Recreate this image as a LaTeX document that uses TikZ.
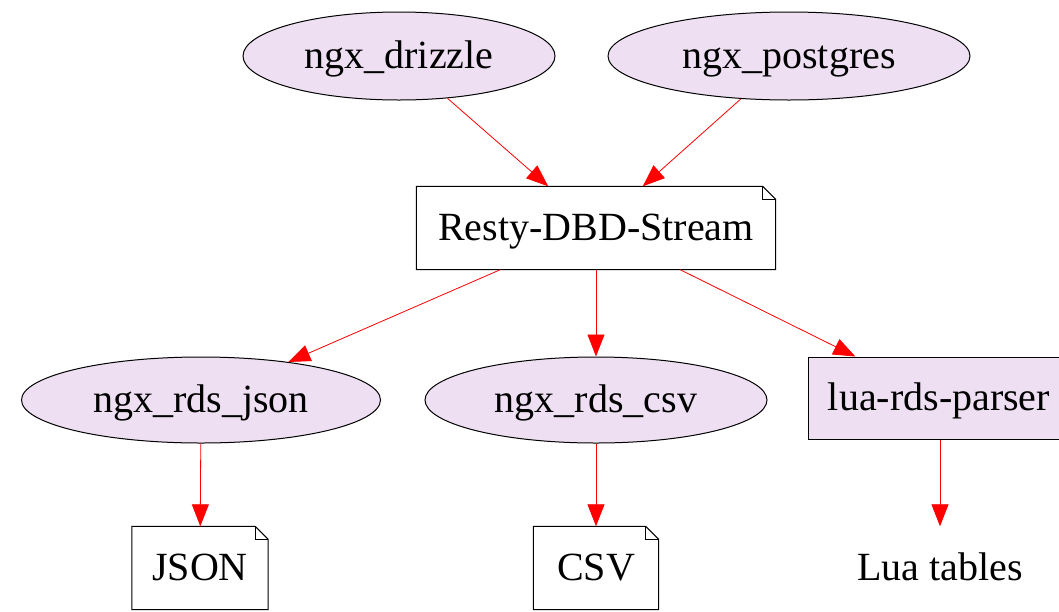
\documentclass[tikz,border=0pt]{standalone}
\usepackage{fontspec}
\setmainfont{Liberation Serif}
\usetikzlibrary{shapes.geometric,arrows.meta}

\definecolor{modfill}{RGB}{238,224,242}
\definecolor{linkred}{RGB}{255,0,0}

\tikzset{
  every node/.style={text height=30pt, text depth=6pt},
  modnode/.style={ellipse, draw=black, line width=1pt, fill=modfill, inner sep=0pt, minimum height=88},
  notebox/.style={rectangle, draw=none, fill=white, inner sep=0pt, minimum height=83},
  parserbox/.style={rectangle, draw=black, line width=1pt, fill=modfill, inner sep=0pt, minimum height=82},
  plainnode/.style={rectangle, inner sep=0pt, minimum height=83},
  link/.style={draw=linkred, line width=0.8pt, -{Triangle[length=22pt,width=17pt]}},
}

\begin{document}
\begin{tikzpicture}[x=1pt,y=1pt,yscale=-1,xscale=1,font=\fontsize{40}{48}\selectfont]
\useasboundingbox (0,0) rectangle (1059,611);

% modules on top
\node [modnode, minimum width=312] (drizzle) at (399,56) {ngx\_drizzle};
\node [modnode, minimum width=362] (postgres) at (789,56) {ngx\_postgres};

% stream format
\node [notebox, minimum width=359] (resty) at (596,228) {Resty-DBD-Stream};

% converters
\node [modnode, minimum width=359, minimum height=86] (rdsjson) at (201,400) {ngx\_rds\_json};
\node [modnode, minimum width=342, minimum height=86] (rdscsv) at (596,400) {ngx\_rds\_csv};
\node [parserbox, minimum width=262] (luaparser) at (939,398) {lua-rds-parser};

% outputs
\node [notebox, minimum width=136] (json) at (200,568) {JSON};
\node [notebox, minimum width=125] (csv) at (596,568) {CSV};
\node [plainnode, minimum width=180] (luatab) at (940,568) {Lua tables};

% note outlines with folded corner
\foreach \n in {resty,json,csv}{
  \draw [line width=1pt] (\n.south west) -- (\n.north west) -- ([xshift=-13]\n.north east) -- ([yshift=13]\n.north east) -- (\n.south east) -- cycle;
  \draw [line width=0.8pt] ([xshift=-13]\n.north east) |- ([yshift=13]\n.north east);
}

% links
\draw [link] (drizzle) -- (resty);
\draw [link] (postgres) -- (resty);
\draw [link] (resty) -- (rdsjson);
\draw [link] (resty) -- (rdscsv);
\draw [link] (resty) -- (luaparser);
\draw [link] (rdsjson) -- (json);
\draw [link] (rdscsv) -- (csv);
\draw [link] (luaparser.south -| luatab) -- (luatab);

\end{tikzpicture}
\end{document}
